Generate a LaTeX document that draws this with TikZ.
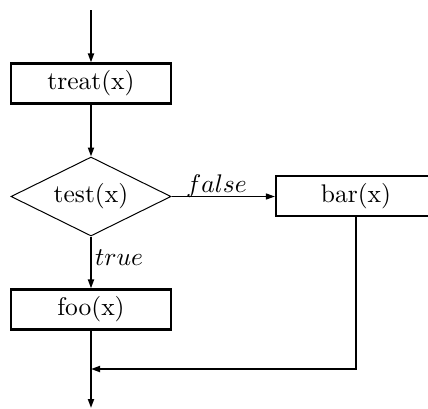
\documentclass[tikz,border=0pt]{standalone}
\usetikzlibrary{shapes.geometric,arrows.meta}
\newcommand{\bigtxt}[1]{\scalebox{2.55}{#1}}
\begin{document}
\begin{tikzpicture}[x=1pt,y=-1pt,
  every node/.style={font=\fontsize{10}{12}\selectfont},
  procbox/.style={draw,line width=2.2pt,minimum width=160pt,minimum height=40pt,inner sep=0pt},
  decision/.style={draw,diamond,shape aspect=2,line width=1pt,minimum width=160pt,minimum height=79pt,inner sep=0pt},
  flow/.style={line width=1.8pt,-{Triangle[length=9pt,width=6pt]}},
  thinflow/.style={line width=1.3pt,-{Triangle[length=9pt,width=6pt]}},
  plainline/.style={line width=1.8pt},
  lbl/.style={inner sep=0pt}]
\useasboundingbox (0,0) rectangle (428,408);
\coordinate (start) at (91,10);
\node[procbox] (treat) at (91,83.5) {\bigtxt{treat(x)}};
\node[decision] (test) at (91,196.5) {\bigtxt{test(x)}};
\node[procbox] (bar) at (356,196) {\bigtxt{bar(x)}};
\node[procbox] (foo) at (91,309.5) {\bigtxt{foo(x)}};
\coordinate (merge) at (91,369);
\coordinate (corner) at (356,369);
\coordinate (finish) at (91,408);
\draw[flow] (start) -- (treat.north);
\draw[flow] (treat.south) -- (test.north);
\draw[thinflow] (test.east) -- (bar.west |- test.east);
\draw[flow] (test.south) -- (foo.north);
\draw[plainline] (foo.south) -- (merge);
\draw[flow] (merge) -- (finish);
\draw[flow] (bar.south) -- (corner) -- (merge);
\node[lbl,anchor=base] (falselbl) at (216.5,192) {\bigtxt{$false$}};
\node[lbl,anchor=base west] (truelbl) at (95,265) {\bigtxt{$true$}};
\end{tikzpicture}
\end{document}
